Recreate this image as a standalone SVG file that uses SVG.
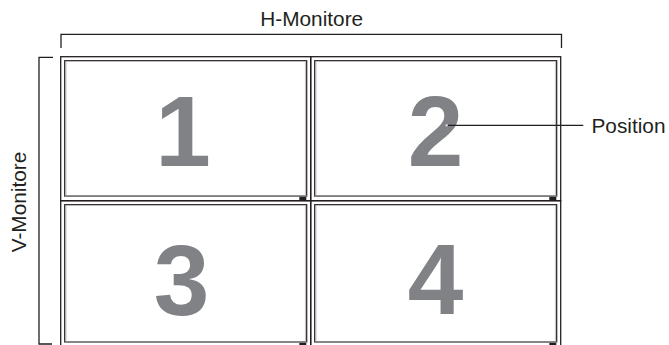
<svg xmlns="http://www.w3.org/2000/svg" width="669" height="345" viewBox="0 0 669 345">
  <style>
    .frame { fill: none; stroke: #231f20; stroke-width: 1.3; }
    .inner { fill: #ffffff; stroke: #231f20; stroke-width: 1.2; }
    .shade { fill: none; stroke: #8a8a8c; stroke-width: 1.6; }
    .vshade { fill: none; stroke: #a8a8aa; stroke-width: 0.7; }
    .foot { fill: #231f20; }
    .num { font-family: "Liberation Sans", Arial, sans-serif; font-weight: bold; font-size: 100px; fill: #808285; text-anchor: middle; }
    .lbl { font-family: "Liberation Sans", Arial, sans-serif; font-size: 20.8px; fill: #231f20; }
    .line { fill: none; stroke: #231f20; stroke-width: 1.3; }
  </style>
  <defs>
    <g id="mon">
      <rect class="frame" x="0" y="0" width="250" height="144"/>
      <rect class="inner" x="4" y="4" width="242" height="135.5"/>
      <line class="shade" x1="4" y1="139.3" x2="246" y2="139.3"/>
      <line class="vshade" x1="5.3" y1="4.6" x2="5.3" y2="138.5"/>
      <line class="vshade" x1="244.7" y1="4.6" x2="244.7" y2="138.5"/>
      <rect class="foot" x="238.6" y="140.2" width="7" height="3.8"/>
    </g>
    <g id="mon-b">
      <rect class="frame" x="0" y="0" width="250" height="146"/>
      <rect class="inner" x="4" y="4" width="242" height="137.3"/>
      <line class="shade" x1="4" y1="141.3" x2="246" y2="141.3"/>
      <line class="vshade" x1="5.3" y1="4.6" x2="5.3" y2="140.5"/>
      <line class="vshade" x1="244.7" y1="4.6" x2="244.7" y2="140.5"/>
      <rect class="foot" x="238.6" y="142.2" width="7" height="3.8"/>
    </g>
  </defs>

  <g id="h-monitore">
    <path class="line" d="M61,48 V34.3 H561.5 V48"/>
    <text class="lbl" x="311.7" y="26" text-anchor="middle">H-Monitore</text>
  </g>

  <g id="v-monitore">
    <path class="line" d="M53,57.3 H39 V344 H52"/>
    <text class="lbl" transform="translate(26,202) rotate(-90)" text-anchor="middle" font-size="19.5">V-Monitore</text>
  </g>

  <g id="monitor-1">
    <use href="#mon" x="60.7" y="56.7"/>
    <text class="num" x="183" y="166">1</text>
  </g>
  <g id="monitor-2">
    <use href="#mon" x="310.7" y="56.7"/>
    <text class="num" x="435.5" y="166">2</text>
  </g>
  <g id="monitor-3">
    <use href="#mon-b" x="60.7" y="200.7"/>
    <text class="num" x="181.5" y="314.5">3</text>
  </g>
  <g id="monitor-4">
    <use href="#mon-b" x="310.7" y="200.7"/>
    <text class="num" x="435.5" y="314">4</text>
  </g>

  <g id="connectors">
    <line class="line" x1="446.7" y1="125.3" x2="583.3" y2="125.3"/>
    <circle cx="446.7" cy="125.3" r="1.2" fill="#d0d0d0" stroke="none"/>
  </g>

  <g id="position-label">
    <text class="lbl" x="591.5" y="133">Position</text>
  </g>
</svg>
